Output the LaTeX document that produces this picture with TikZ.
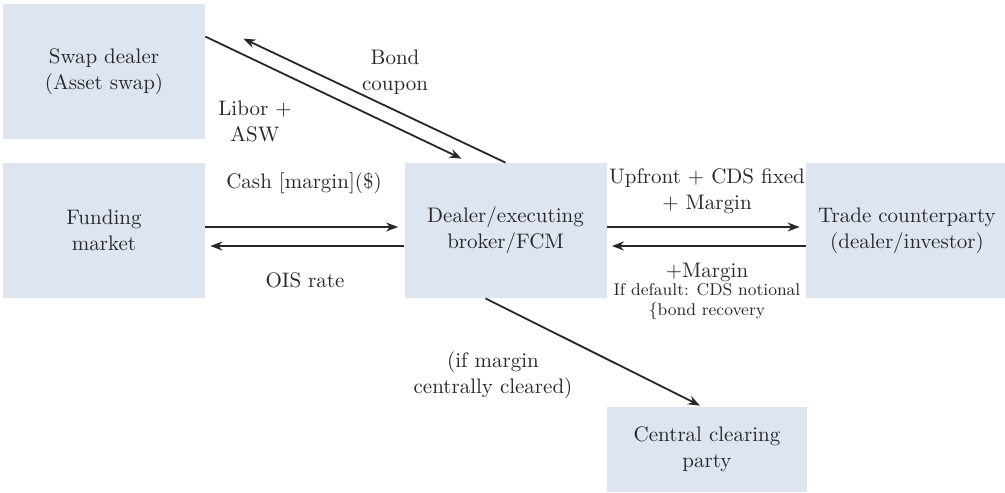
\documentclass[tikz,border=0pt]{standalone}
\usetikzlibrary{calc,arrows.meta}
\definecolor{boxblue}{RGB}{220,229,240}
\definecolor{inkgray}{RGB}{40,40,40}
\begin{document}
\begin{tikzpicture}
  [x=0.5pt,y=-0.5pt,
   every node/.style={text=inkgray,font=\fontsize{10.5}{13}\selectfont,align=center},
   party/.style={fill=boxblue,minimum width=101pt,minimum height=67.5pt,inner sep=0pt},
   small/.style={font=\fontsize{8.5}{10}\selectfont},
   flow/.style={draw=inkgray,line width=0.9pt,-{Stealth[length=6pt,width=4.5pt]}}]
  \useasboundingbox (0,0) rectangle (1005,492);
  \node[party] (swap) at (104,71.5) {Swap dealer\\(Asset swap)};
  \node[party] (fund) at (104,230.5) {Funding\\market};
  \node[party] (dealer) at (505.5,230.5) {Dealer/executing\\broker/FCM};
  \node[party] (trade) at (907,230.5) {Trade counterparty\\(dealer/investor)};
  \node[party,minimum width=100pt,minimum height=42.5pt] (ccp) at (707,449.5) {Central clearing\\party};

  \node (bond) at (395,72) {Bond\\coupon};
  \node (libor) at (255,121) {Libor +\\ASW};
  \node (cash) at (304,183) {Cash [margin](\$)};
  \node (ois) at (305,280) {OIS rate};
  \node (upfront) at (707,191) {Upfront + CDS fixed\\+ Margin};
  \node (margin) at (707,272) {+Margin};
  \node[small] (dflt) at (707,302) {If default: CDS notional\\\{bond recovery};
  \node (cleared) at (493,375) {(if margin\\centrally cleared)};

  \draw[flow] ($(swap.north east)+(0,33)$) -- ($(dealer.north)+(-44,-4)$);
  \draw[flow] (dealer.north) -- ($(swap.north east)+(38,35)$);
  \foreach \from/\to in {fund/dealer,dealer/trade}
  {
    \draw[flow] ($(\from.east)+(0,-3.5)$) -- ($(\to.west)+(-6,-3.5)$);
    \draw[flow] ($(\to.west)+(0,15.5)$) -- ($(\from.east)+(5,15.5)$);
  }
  \draw[flow] ($(dealer.south)+(-20,0)$) -- ($(ccp.north)+(-7,-1)$);

\end{tikzpicture}
\end{document}
